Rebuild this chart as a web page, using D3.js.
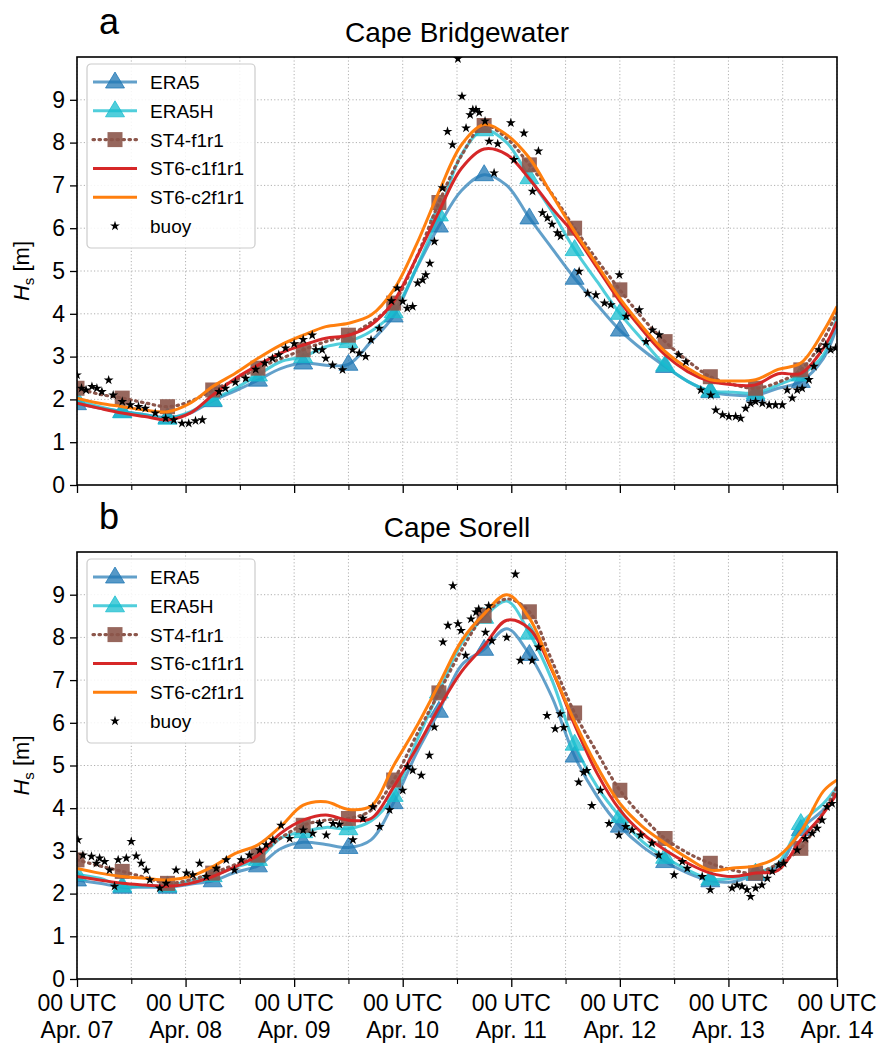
<!DOCTYPE html>
<html>
<head>
<meta charset="utf-8">
<script src="https://cdn.jsdelivr.net/npm/d3@7"></script>
<style>
  html, body { margin: 0; padding: 0; background: #fff; }
  svg { display: block; font-family: "Liberation Sans", Arial, sans-serif; }
</style>
</head>
<body>
<div id="chart"></div>
<script>
// hours since 00 UTC Apr. 07
const hours = [0, 5, 10, 15, 20, 25, 30, 35, 40, 45, 50, 55, 60, 65, 70, 75, 80, 85, 90, 95, 100,
  105, 110, 115, 120, 125, 130, 135, 140, 145, 150, 155, 160, 165, 168];

const seriesNames = ["ERA5", "ERA5H", "ST4-f1r1", "ST6-c1f1r1", "ST6-c2f1r1"];
const dayTicks = [0, 24, 48, 72, 96, 120, 144, 168];
const halfDayTicks = [12, 36, 60, 84, 108, 132, 156];
const dayLabels = ["Apr. 07", "Apr. 08", "Apr. 09", "Apr. 10", "Apr. 11", "Apr. 12", "Apr. 13", "Apr. 14"];
const yTicks = [0, 1, 2, 3, 4, 5, 6, 7, 8, 9];

// Cape Bridgewater
const era5A = [1.9, 1.8, 1.72, 1.64, 1.58, 1.68, 1.97, 2.2, 2.45, 2.72, 2.85, 2.8, 2.82, 3.35, 3.95, 5.05, 6.05, 6.88, 7.25, 7.0, 6.24,
  5.53, 4.83, 4.21, 3.62, 3.16, 2.77, 2.42, 2.18, 2.1, 2.1, 2.26, 2.42, 2.96, 3.7];
const era5hA = [1.99, 1.83, 1.71, 1.64, 1.56, 1.71, 1.99, 2.26, 2.57, 2.88, 3.0, 3.23, 3.35, 3.59, 4.05, 5.07, 6.31, 7.72, 8.3, 8.0, 7.18,
  6.39, 5.5, 4.75, 4.01, 3.39, 2.8, 2.42, 2.2, 2.17, 2.15, 2.34, 2.57, 3.04, 3.97];
const st4A = [2.26, 2.12, 2.03, 1.92, 1.83, 1.95, 2.22, 2.45, 2.73, 2.95, 3.16, 3.35, 3.5, 3.8, 4.25, 5.3, 6.6, 7.7, 8.4, 8.1, 7.48,
  6.8, 6.0, 5.25, 4.56, 3.9, 3.35, 2.9, 2.53, 2.35, 2.26, 2.4, 2.69, 3.4, 4.05];
const st6c1A = [1.91, 1.79, 1.68, 1.6, 1.52, 1.68, 2.1, 2.49, 2.8, 3.08, 3.27, 3.43, 3.5, 3.74, 4.29, 5.3, 6.39, 7.4, 7.85, 7.72, 7.15,
  6.47, 5.85, 5.07, 4.29, 3.62, 3.04, 2.65, 2.42, 2.34, 2.34, 2.6, 2.61, 3.2, 3.82];
const st6c2A = [2.03, 1.91, 1.83, 1.75, 1.71, 1.91, 2.3, 2.61, 2.96, 3.27, 3.5, 3.7, 3.78, 3.97, 4.56, 5.61, 6.85, 7.95, 8.42, 8.18, 7.64,
  6.78, 5.92, 5.14, 4.36, 3.7, 3.12, 2.73, 2.46, 2.43, 2.46, 2.7, 2.85, 3.59, 4.17];
const buoyA = [[0, 2.57], [1, 2.26], [2, 2.22], [3.3, 2.3], [4.4, 2.26], [5.5, 2.18], [7, 2.45], [8, 2.1], [10, 1.95],
  [11.8, 1.87], [13.6, 1.83], [15.1, 1.79], [17.3, 1.68], [19.6, 1.56], [21.4, 1.52], [23.2, 1.44], [24.7, 1.44],
  [26.2, 1.5], [27.7, 1.52], [31.4, 2.18], [32.8, 2.26], [35, 2.4], [37.3, 2.49], [39.5, 2.7], [41.5, 2.85],
  [43.2, 2.96], [44.6, 3.04], [46.1, 3.2], [48, 3.3], [50, 3.4], [52, 3.5], [52.8, 3.16], [54.2, 3.16], [55, 2.96],
  [56.5, 2.8], [58.7, 2.69], [60.9, 3.16], [62.4, 3.08], [63.8, 3.0], [65, 3.39], [66.8, 3.66], [69.5, 4.3],
  [70.8, 4.6], [72, 4.29], [73, 4.13], [74.2, 4.17], [75.3, 4.72], [76.4, 4.79], [77.1, 4.91], [78, 5.18],
  [79, 5.69], [80.8, 6.94], [81.9, 8.26], [83, 7.95], [84.2, 9.96], [85.1, 9.08], [86, 8.34], [86.9, 8.65],
  [87.5, 8.77], [88.2, 8.77], [88.9, 8.7], [90.2, 8.5], [91.1, 8.03], [92.2, 7.29], [93, 7.97], [95.9, 8.46],
  [96.6, 7.6], [98.8, 8.22], [100.7, 6.86], [102, 7.8], [102.9, 6.36], [104, 6.24], [105, 6.09], [106.2, 5.89],
  [106.9, 5.81], [111, 4.99], [112.9, 4.48], [114.7, 4.44], [116.6, 4.25], [118, 4.21], [119.9, 4.91],
  [121.4, 3.94], [124.3, 4.09], [125.8, 3.35], [127.2, 3.62], [128.7, 3.51], [133, 3.04], [134.6, 2.88],
  [137.9, 2.22], [140.1, 2.1], [141.2, 1.75], [142.7, 1.64], [144.1, 1.6], [145.6, 1.6], [146.7, 1.56],
  [147.8, 1.79], [148.9, 1.91], [150, 1.95], [151.5, 1.91], [153, 1.87], [154.4, 1.87], [155.9, 1.87],
  [157, 2.22], [158.1, 2.03], [159.2, 2.22], [160.3, 2.26], [161.8, 2.46], [162.9, 2.77], [164, 3.16],
  [165.5, 3.27], [166.6, 3.16], [167.7, 3.2]];

// Cape Sorell
const era5B = [2.32, 2.24, 2.15, 2.15, 2.15, 2.22, 2.3, 2.5, 2.65, 3.05, 3.2, 3.15, 3.08, 3.26, 4.13, 5.28, 6.27, 7.35, 7.72, 8.2, 7.6,
  6.6, 5.22, 4.27, 3.58, 3.1, 2.75, 2.48, 2.3, 2.28, 2.45, 2.63, 3.5, 3.96, 4.35];
const era5hB = [2.45, 2.36, 2.18, 2.18, 2.18, 2.3, 2.42, 2.62, 2.8, 3.3, 3.45, 3.55, 3.52, 3.7, 4.3, 5.55, 6.72, 7.85, 8.47, 8.85, 8.1,
  7.0, 5.5, 4.5, 3.8, 3.22, 2.85, 2.55, 2.34, 2.36, 2.48, 2.71, 3.64, 4.11, 4.5];
const st4B = [2.79, 2.65, 2.52, 2.38, 2.24, 2.32, 2.48, 2.68, 2.9, 3.3, 3.6, 3.72, 3.76, 3.95, 4.66, 5.7, 6.7, 7.7, 8.51, 8.9, 8.6,
  7.45, 6.23, 5.3, 4.42, 3.8, 3.29, 2.95, 2.71, 2.55, 2.48, 2.7, 3.06, 3.9, 4.5];
const st6c1B = [2.4, 2.32, 2.24, 2.2, 2.17, 2.24, 2.4, 2.63, 2.9, 3.41, 3.72, 3.84, 3.72, 3.76, 4.5, 5.4, 6.35, 7.2, 7.8, 8.4, 8.2,
  7.23, 5.95, 4.81, 3.96, 3.41, 3.02, 2.71, 2.48, 2.4, 2.48, 2.55, 3.26, 3.88, 4.35];
const st6c2B = [2.59, 2.48, 2.4, 2.36, 2.32, 2.4, 2.63, 2.94, 3.14, 3.57, 4.07, 4.15, 3.97, 4.05, 5.0, 5.9, 6.9, 7.92, 8.55, 9.0, 8.45,
  7.25, 6.03, 4.97, 4.11, 3.57, 3.18, 2.83, 2.55, 2.6, 2.65, 2.87, 3.45, 4.4, 4.66];
const buoyB = [[0.2, 3.26], [1.3, 2.9], [3.2, 2.87], [4.3, 2.71], [5, 2.83], [6.1, 2.75], [7.2, 2.55], [8.3, 2.17],
  [9.1, 2.79], [10.9, 2.83], [12, 3.22], [13.1, 2.88], [14.2, 2.71], [15.3, 2.55], [16.1, 2.32], [18.3, 2.13],
  [19.7, 2.24], [21.9, 2.55], [24.2, 2.48], [25.6, 2.44], [27.1, 2.71], [28.6, 2.4], [30.8, 2.59], [33, 2.79],
  [34.8, 2.55], [36.3, 2.79], [38.1, 2.9], [40.4, 3.02], [41.8, 3.14], [43.3, 3.26], [45.1, 3.6], [47, 3.29],
  [50, 3.49], [52.1, 3.41], [53.6, 3.64], [55.1, 3.37], [56.6, 3.64], [58, 3.62], [61, 3.26], [63.2, 3.76],
  [65.4, 4.03], [66.9, 3.57], [69.1, 3.96], [72, 4.42], [73.1, 4.97], [74.2, 4.89], [76.1, 4.77], [77.9, 5.24],
  [79, 5.9], [80.9, 7.89], [82, 8.28], [83.1, 9.21], [84.2, 8.32], [84.9, 8.16], [85.9, 7.58], [87.1, 8.43],
  [88.2, 8.59], [88.8, 8.66], [90.3, 8.12], [91, 8.74], [91.7, 7.92], [95, 8.0], [96.9, 9.48], [98, 7.46],
  [100.6, 7.46], [102, 7.77], [103.9, 6.17], [105.7, 5.86], [106.8, 6.21], [107.6, 5.89], [110.9, 4.61],
  [112, 4.84], [112.7, 4.88], [113.8, 4.06], [115.7, 4.42], [117.6, 3.64], [119.8, 3.37], [121.3, 3.57],
  [122.7, 3.49], [124.6, 3.37], [127.1, 3.18], [128.6, 2.9], [132, 2.44], [133.8, 2.75], [134.9, 2.59],
  [138.2, 2.4], [140, 2.09], [144.8, 2.13], [145.9, 2.2], [147, 2.17], [148.1, 2.09], [148.9, 1.93], [150, 2.13],
  [151.4, 2.2], [152.6, 2.36], [153.7, 2.52], [155.1, 2.67], [156.2, 2.71], [159.2, 3.02], [161, 3.29],
  [162.5, 3.41], [163.6, 3.53], [164.7, 3.72], [165.8, 4.03], [166.9, 4.11]];

// line / marker look for each series, in legend order
const styles = [
  { color: "#1f77b4", lineOpacity: 0.7, marker: "triangle", markerOpacity: 0.75, dash: null },
  { color: "#17becf", lineOpacity: 0.75, marker: "triangle", markerOpacity: 0.75, dash: null },
  { color: "#8c564b", lineOpacity: 1, marker: "square", markerOpacity: 0.9, dash: "1.5,4.5" },
  { color: "#d62728", lineOpacity: 1, marker: null, dash: null },
  { color: "#ff7f0e", lineOpacity: 1, marker: null, dash: null }
];

const W = 882, H = 1047;
const svg = d3.select("#chart").append("svg").attr("width", W).attr("height", H);

const xScale = d3.scaleLinear().domain([0, 168]).range([77, 837]);
const plotLeft = 77, plotRight = 837;

const triPath = "M0,-10L9.5,6L-9.5,6Z";
const sqPath = "M-7.5,-7.5H7.5V7.5H-7.5Z";
const starPath = d3.symbol(d3.symbolStar, 30)();

const drawMarker = (g, kind, color, opacity) => {
  if (kind === "triangle") {
    g.append("path").attr("d", triPath).attr("fill", color).attr("fill-opacity", opacity)
      .attr("stroke", color).attr("stroke-opacity", opacity).attr("stroke-width", 1);
  } else if (kind === "square") {
    g.append("path").attr("d", sqPath).attr("fill", color).attr("fill-opacity", opacity);
  }
}

const drawPanel = (p) => {
  const yScale = d3.scaleLinear().domain([0, 10]).range([p.bottom, p.top]);
  const g = svg.append("g");

  // grid
  g.append("g").selectAll("line").data(dayTicks.concat(halfDayTicks)).join("line")
    .attr("x1", d => xScale(d)).attr("x2", d => xScale(d))
    .attr("y1", p.top).attr("y2", p.bottom)
    .attr("stroke", "#b0b0b0").attr("stroke-width", 1).attr("stroke-dasharray", "1.2,2.2");
  g.append("g").selectAll("line").data(yTicks.slice(1)).join("line")
    .attr("y1", d => yScale(d)).attr("y2", d => yScale(d))
    .attr("x1", plotLeft).attr("x2", plotRight)
    .attr("stroke", "#b0b0b0").attr("stroke-width", 1).attr("stroke-dasharray", "1.2,2.2");

  // clip
  const clipId = "clip" + p.id;
  svg.append("clipPath").attr("id", clipId).append("rect")
    .attr("x", plotLeft).attr("y", p.top).attr("width", plotRight - plotLeft).attr("height", p.bottom - p.top);
  const plot = g.append("g").attr("clip-path", `url(#${clipId})`);

  const line = d3.line().x((d, i) => xScale(hours[i])).y(d => yScale(d)).curve(d3.curveCatmullRom);

  p.series.forEach((vals, k) => {
    const st = styles[k];
    plot.append("path").attr("d", line(vals)).attr("fill", "none")
      .attr("stroke", st.color).attr("stroke-opacity", st.lineOpacity)
      .attr("stroke-width", st.dash ? 3.2 : 3)
      .attr("stroke-linecap", st.dash ? "round" : "butt")
      .attr("stroke-dasharray", st.dash);
    if (st.marker) {
      const pts = vals.map((v, i) => [hours[i], v]).filter(d => d[0] % 10 === 0);
      pts.forEach(d => {
        const m = plot.append("g").attr("transform", `translate(${xScale(d[0])},${yScale(d[1])})`);
        drawMarker(m, st.marker, st.color, st.markerOpacity);
      });
    }
  });

  plot.append("g").selectAll("path").data(p.buoy).join("path")
    .attr("d", starPath)
    .attr("transform", d => `translate(${xScale(d[0])},${yScale(d[1])})`)
    .attr("fill", "#000");

  // axes
  const yAxis = g.append("g").attr("transform", `translate(${plotLeft},0)`)
    .call(d3.axisLeft(yScale).tickValues(yTicks).tickSize(7).tickPadding(5));
  yAxis.select(".domain").remove();
  yAxis.selectAll("line").attr("stroke-width", 1.3);
  yAxis.selectAll("text").attr("font-size", 23).attr("font-family", "Liberation Sans, Arial, sans-serif").attr("fill", "#000");

  const xMajor = g.append("g").attr("transform", `translate(0,${p.bottom})`)
    .call(d3.axisBottom(xScale).tickValues(dayTicks).tickSize(8).tickFormat(""));
  xMajor.select(".domain").remove();
  xMajor.selectAll("line").attr("stroke-width", 1.3);
  const xMinor = g.append("g").attr("transform", `translate(0,${p.bottom})`)
    .call(d3.axisBottom(xScale).tickValues(halfDayTicks).tickSize(5).tickFormat(""));
  xMinor.select(".domain").remove();
  xMinor.selectAll("line").attr("stroke-width", 1.1);

  if (p.xLabels) {
    const lab = g.append("g").selectAll("text").data(dayTicks).join("text")
      .attr("text-anchor", "middle").attr("font-size", 23).attr("fill", "#000");
    lab.append("tspan").attr("x", d => xScale(d)).attr("y", p.bottom + 32).text("00 UTC");
    lab.append("tspan").attr("x", d => xScale(d)).attr("y", p.bottom + 59).text((d, i) => dayLabels[i]);
  }

  // spines
  g.append("rect").attr("x", plotLeft).attr("y", p.top)
    .attr("width", plotRight - plotLeft).attr("height", p.bottom - p.top)
    .attr("fill", "none").attr("stroke", "#000").attr("stroke-width", 1.6);

  // y label
  const yl = g.append("text")
    .attr("transform", `translate(29,${(p.top + p.bottom) / 2}) rotate(-90)`)
    .attr("text-anchor", "middle").attr("font-size", 22).attr("fill", "#000");
  yl.append("tspan").attr("font-style", "italic").text("H");
  yl.append("tspan").attr("font-size", 15).attr("dy", 5).text("s");
  yl.append("tspan").attr("dy", -5).text(" [m]");

  // title and panel letter
  g.append("text").attr("x", 457).attr("y", p.top - 15).attr("text-anchor", "middle")
    .attr("font-size", 28).attr("fill", "#000").text(p.title);
  g.append("text").attr("x", 99).attr("y", p.top - 23)
    .attr("font-size", 36).attr("fill", "#000").text(p.letter);

  // legend
  const lg = g.append("g").attr("transform", `translate(87,${p.top + 7})`);
  lg.append("rect").attr("width", 168).attr("height", 184).attr("rx", 4)
    .attr("fill", "#fff").attr("fill-opacity", 0.85).attr("stroke", "#cccccc").attr("stroke-width", 1.2);
  const rowY = i => 18 + i * 28.8;
  seriesNames.forEach((name, k) => {
    const st = styles[k];
    const row = lg.append("g").attr("transform", `translate(0,${rowY(k)})`);
    row.append("line").attr("x1", 6).attr("x2", 50).attr("y1", 0).attr("y2", 0)
      .attr("stroke", st.color).attr("stroke-opacity", st.lineOpacity)
      .attr("stroke-width", st.dash ? 3.2 : 3)
      .attr("stroke-linecap", st.dash ? "round" : "butt")
      .attr("stroke-dasharray", st.dash);
    if (st.marker) {
      const m = row.append("g").attr("transform", "translate(28,0)");
      drawMarker(m, st.marker, st.color, st.markerOpacity);
    }
    row.append("text").attr("x", 63).attr("y", 7).attr("font-size", 19).attr("fill", "#000").text(name);
  });
  const brow = lg.append("g").attr("transform", `translate(0,${rowY(5)})`);
  brow.append("path").attr("d", starPath).attr("transform", "translate(28,0)").attr("fill", "#000");
  brow.append("text").attr("x", 63).attr("y", 7).attr("font-size", 19).attr("fill", "#000").text("buoy");
}

drawPanel({ id: "a", top: 57, bottom: 485, title: "Cape Bridgewater", letter: "a",
  series: [era5A, era5hA, st4A, st6c1A, st6c2A], buoy: buoyA, xLabels: false });
drawPanel({ id: "b", top: 552, bottom: 979, title: "Cape Sorell", letter: "b",
  series: [era5B, era5hB, st4B, st6c1B, st6c2B], buoy: buoyB, xLabels: true });
</script>
</body>
</html>
